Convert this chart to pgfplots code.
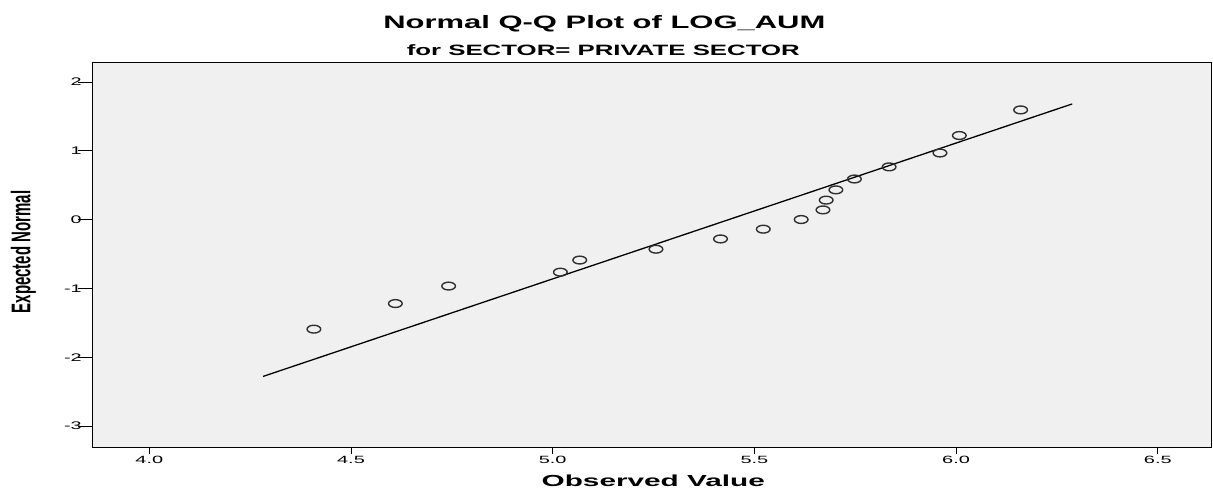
\documentclass[border=0pt]{standalone}
\usepackage{fontspec}
\setmainfont{Liberation Sans}
\usepackage{graphicx}
\usepackage{pgfplots}
\pgfplotsset{compat=1.18}
\definecolor{bg}{HTML}{F0F0F0}
\definecolor{mk}{HTML}{303030}
\begin{document}
\begin{tikzpicture}
\useasboundingbox (-92.3pt,-47pt) rectangle (1120.7pt,448pt);
\begin{axis}[
  at={(0pt,0pt)}, anchor=south west,
  scale only axis, width=1119.4pt, height=385.7pt,
  xmin=3.8587, xmax=6.6336, ymin=-3.32, ymax=2.285,
  axis background/.style={fill=bg},
  axis line style={line width=1pt, black},
  tick align=outside, xtick pos=bottom, ytick pos=left,
  xtick={4,4.5,5,5.5,6,6.5}, xticklabels={4.0,4.5,5.0,5.5,6.0,6.5},
  ytick={-3,-2,-1,0,1,2}, yticklabels={-3,-2,-1,0,1,2},
  tick style={black, line width=0.8pt},
  xtick style={/pgfplots/major tick length=6pt},
  ytick style={/pgfplots/major tick length=14pt},
  xticklabel style={font=\fontsize{10.5}{12}\selectfont, xscale=1.9},
  yticklabel style={font=\fontsize{11}{12}\selectfont, xscale=1.8},
]
\addplot[only marks, mark=o, mark size=3.9pt, mark options={xscale=1.75, line width=1.4pt, draw=mk}] coordinates {
(4.408,-1.593) (4.610,-1.221) (4.742,-0.967) (5.019,-0.765) (5.067,-0.589)
(5.256,-0.431) (5.416,-0.282) (5.522,-0.140) (5.616,0) (5.670,0.140)
(5.678,0.282) (5.702,0.431) (5.748,0.589) (5.834,0.765) (5.960,0.967)
(6.008,1.221) (6.160,1.593)
};
\addplot[black, line width=1.3pt] coordinates {(4.282,-2.28) (6.288,1.68)};
\end{axis}
\node[anchor=base, font=\bfseries\fontsize{18}{20}\selectfont, xscale=1.72] at (512pt,419pt) {Normal Q-Q Plot of LOG\_AUM};
\node[anchor=base, font=\bfseries\fontsize{15}{17}\selectfont, xscale=1.72] at (511pt,392pt) {for SECTOR= PRIVATE SECTOR};
\node[anchor=base, font=\bfseries\fontsize{16}{18}\selectfont, xscale=1.86] at (561pt,-39pt) {Observed Value};
\node at (-69pt,196pt) {\scalebox{1.8}[1]{\rotatebox{90}{\bfseries\fontsize{15}{17}\selectfont Expected Normal}}};
\end{tikzpicture}
\end{document}
